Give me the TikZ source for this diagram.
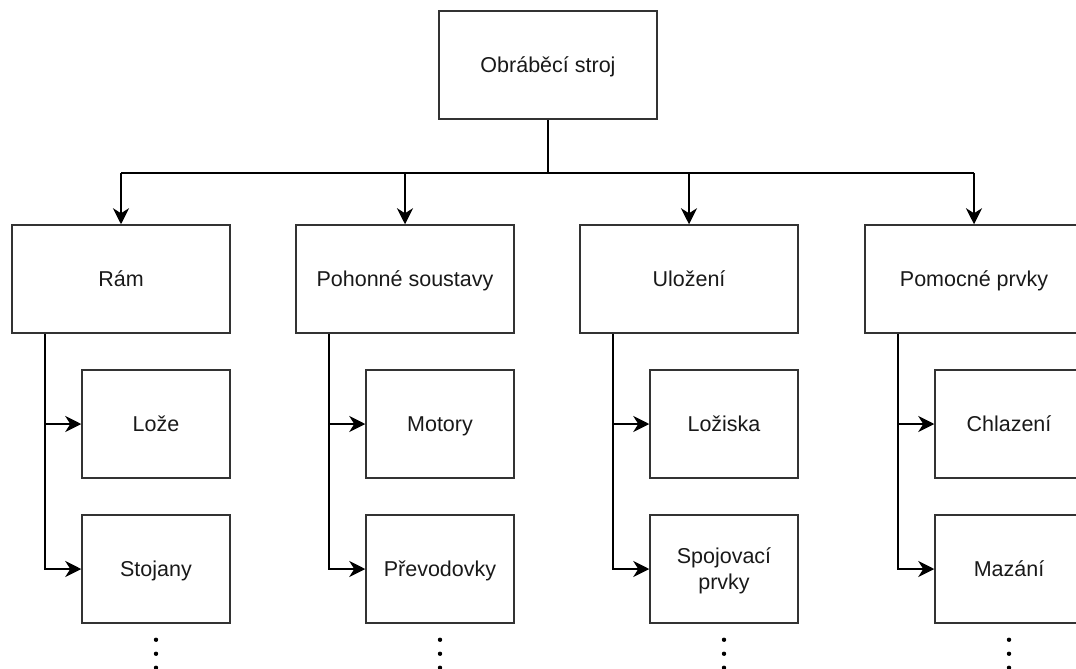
\documentclass[tikz,border=0pt]{standalone}
\usepackage{fontspec}
\setmainfont{Liberation Sans}
\usetikzlibrary{arrows.meta}
\tikzset{
  basebox/.style={draw=black!80, line width=1.5pt, minimum height=108pt,
    inner sep=0pt, align=center, font=\fontsize{21.5}{26}\selectfont, text=black!90},
  oneline/.style={text height=20pt, text depth=4.5pt},
  box/.style={basebox, oneline, minimum width=218pt},
  childbox/.style={basebox, oneline, minimum width=148pt},
  twolinebox/.style={basebox, minimum width=148pt},
  conn/.style={draw=black, line width=2pt},
  arr/.style={conn, -{Stealth[length=16pt, width=16pt, inset=5pt]}},
  dot/.style={fill=black}
}
\begin{document}
\begin{tikzpicture}[x=1pt, y=-1pt]
\useasboundingbox (0,0) rectangle (1076,669);
\clip (0,0) rectangle (1076,669);
\node[box] (top) at (548,65) {Obráběcí stroj};
\coordinate (bus) at (548,173);
% level 1
\node[box] (p1) at (121,279) {Rám};
\node[box] (p2) at (405,279) {Pohonné soustavy};
\node[box] (p3) at (689,279) {Uložení};
\node[box] (p4) at (974,279) {Pomocné prvky};
% level 2
\node[childbox] (c11) at (156,424) {Lože};
\node[childbox] (c12) at (156,569) {Stojany};
\node[childbox] (c21) at (440,424) {Motory};
\node[childbox] (c22) at (440,569) {Převodovky};
\node[childbox] (c31) at (724,424) {Ložiska};
\node[twolinebox] (c32) at (724,569) {\rule{0pt}{19pt}Spojovací\\prvky};
\node[childbox] (c41) at (1009,424) {Chlazení};
\node[childbox] (c42) at (1009,569) {Mazání};
% connectors
\draw[conn] (top.south) -- (bus);
\draw[conn] (p1.north |- bus) -- (p4.north |- bus);
\foreach \p in {p1,p2,p3,p4} {
  \draw[arr] (\p.north |- bus) -- (\p.north);
}
\foreach \p/\a/\b in {p1/c11/c12, p2/c21/c22, p3/c31/c32, p4/c41/c42} {
  \draw[arr] ([xshift=34pt]\p.south west) |- (\a.west);
  \draw[arr] ([xshift=34pt]\p.south west) |- (\b.west);
  \fill[dot] ([yshift=-16pt]\b.south) circle (2.2pt);
  \fill[dot] ([yshift=-30pt]\b.south) circle (2.2pt);
  \fill[dot] ([yshift=-44pt]\b.south) circle (2.2pt);
}
\end{tikzpicture}
\end{document}
